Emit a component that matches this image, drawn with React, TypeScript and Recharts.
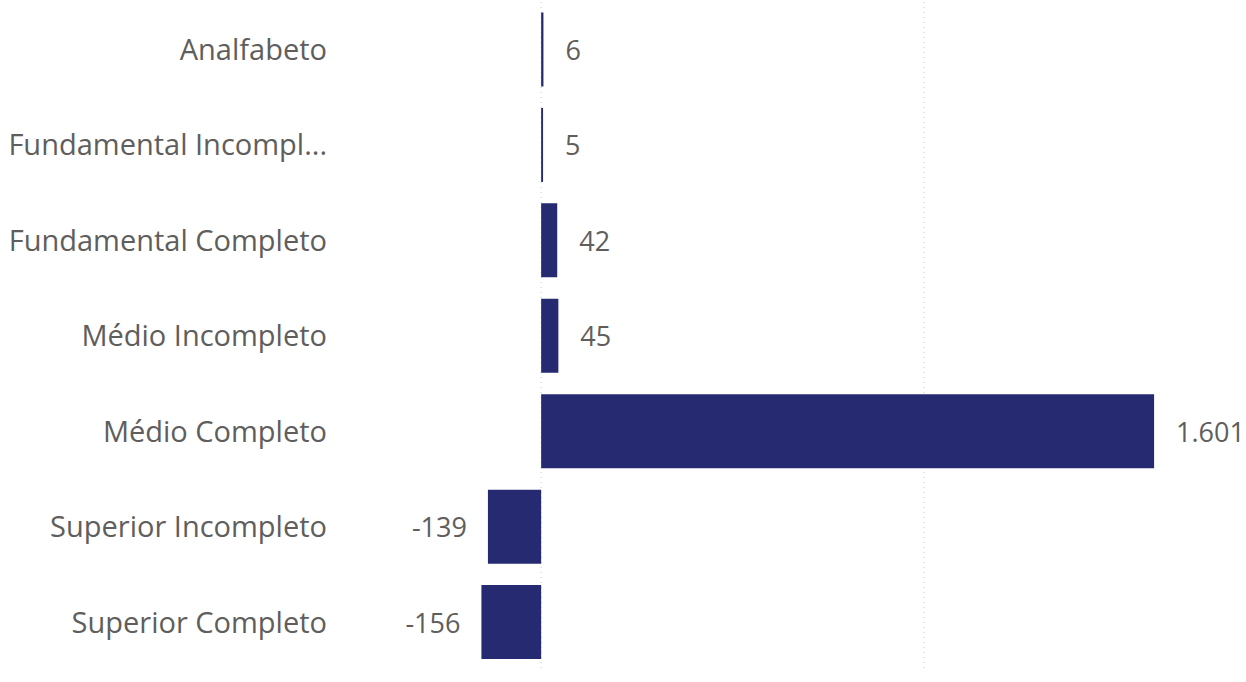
import React from "react";
import { BarChart, Bar, XAxis, YAxis, CartesianGrid, LabelList } from "recharts";

const categories = [
  "Analfabeto",
  "Fundamental Incompleto",
  "Fundamental Completo",
  "Médio Incompleto",
  "Médio Completo",
  "Superior Incompleto",
  "Superior Completo",
];
const saldo = [6, 5, 42, 45, 1601, -139, -156];
const gridTicks = [0, 1000];
const xDomain = [-400, 1700];

const data = categories.map((name, i) => ({ name, saldo: saldo[i] }));

const FONT = "'Segoe UI', 'Open Sans', sans-serif";
const TEXT = "#605E5C";
const BAR = "#262A70";

const fmt = (v: number) =>
  (v < 0 ? "-" : "") + String(Math.abs(v)).replace(/\B(?=(\d{3})+(?!\d))/g, ".");

const shorten = (v: string) => (v.length > 20 ? v.slice(0, 19) + "..." : v);

// only the inner value lines, no lines at the plot edges
const gridX = ({ offset }: any) =>
  gridTicks.map(
    (t) => offset.left + ((t - xDomain[0]) / (xDomain[1] - xDomain[0])) * offset.width
  );

function ValueLabel(props: any) {
  const { x, y, width, height, value } = props;
  const left = Math.min(x, x + width);
  const right = Math.max(x, x + width);
  const neg = value < 0;
  return (
    <text
      x={neg ? left - 21 : right + 22}
      y={y + height / 2}
      textAnchor={neg ? "end" : "start"}
      dominantBaseline="central"
      fill={TEXT}
      fontSize={27}
      fontFamily={FONT}
    >
      {fmt(value)}
    </text>
  );
}

export default function App() {
  return (
    <div style={{ position: "absolute", left: 0, top: 0, background: "#fff" }}>
      <BarChart
        width={1246}
        height={682}
        data={data}
        layout="vertical"
        margin={{ top: 2, right: 54, bottom: 12, left: 0 }}
        barCategoryGap="11%"
      >
        <CartesianGrid
          horizontal={false}
          stroke="#c8c8c8"
          strokeDasharray="1 4"
          verticalCoordinatesGenerator={gridX}
        />
        <XAxis type="number" domain={xDomain} ticks={gridTicks} hide />
        <YAxis
          type="category"
          dataKey="name"
          width={388}
          axisLine={false}
          tickLine={false}
          tickSize={0}
          tickMargin={61}
          tickFormatter={shorten}
          tick={{ fill: TEXT, fontSize: 29, fontFamily: FONT }}
        />
        <Bar dataKey="saldo" fill={BAR} isAnimationActive={false}>
          <LabelList dataKey="saldo" content={ValueLabel} />
        </Bar>
      </BarChart>
    </div>
  );
}
